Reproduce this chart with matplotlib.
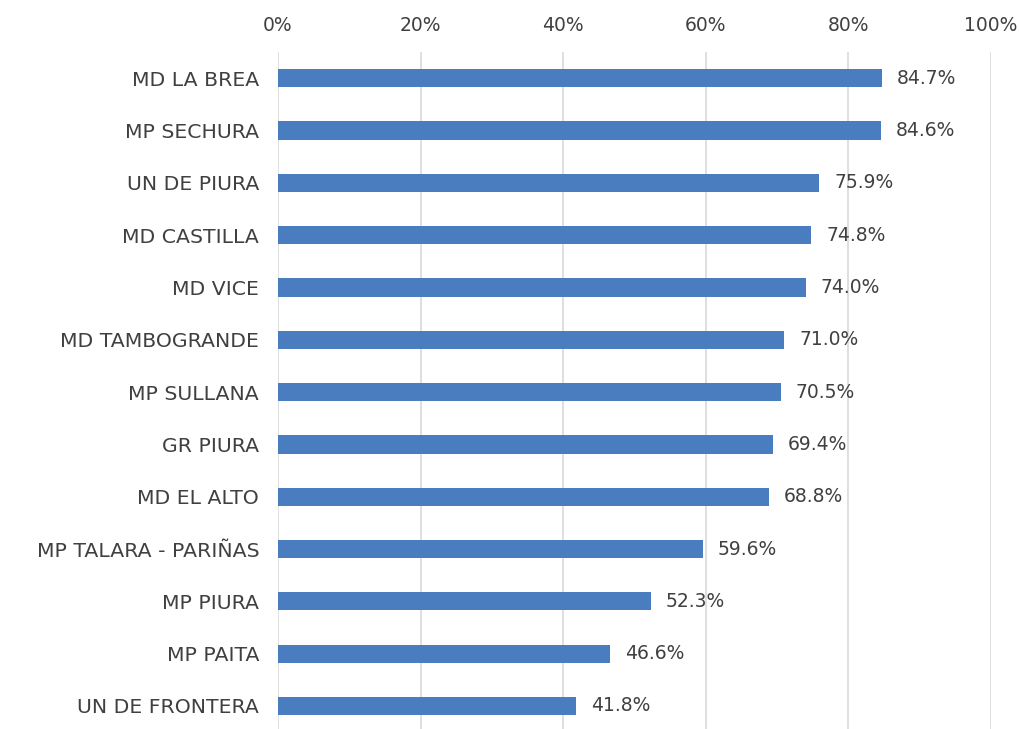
import matplotlib
matplotlib.use("Agg")
import matplotlib.pyplot as plt
from matplotlib.ticker import FuncFormatter

categories = ["MD LA BREA", "MP SECHURA", "UN DE PIURA", "MD CASTILLA", "MD VICE",
              "MD TAMBOGRANDE", "MP SULLANA", "GR PIURA", "MD EL ALTO",
              "MP TALARA - PARIÑAS", "MP PIURA", "MP PAITA", "UN DE FRONTERA"]
values = [84.7, 84.6, 75.9, 74.8, 74.0, 71.0, 70.5, 69.4, 68.8, 59.6, 52.3, 46.6, 41.8]
xticks = [0, 20, 40, 60, 80, 100]

plt.rcParams['font.family'] = ['DejaVu Sans']
text_color = "#404040"

fig = plt.figure(figsize=(10.2, 7.29), dpi=100)
ax = fig.add_axes([278/1020, 0.0, (991-278)/1020, 1 - 52/729])

y = list(range(len(categories)))
ax.barh(y, values, height=0.35, color="#4a7dbf", zorder=3)
ax.set_ylim(len(categories) - 0.56, -0.5)
ax.set_xlim(0, 100)
ax.set_yticks(y)
ax.set_yticklabels(categories, fontsize=14.7, color=text_color)
ax.set_xticks(xticks)
ax.xaxis.set_major_formatter(FuncFormatter(lambda v, p: f"{v:.0f}%"))
ax.xaxis.tick_top()
ax.tick_params(axis='x', length=0, pad=12, labelsize=13.5, labelcolor=text_color)
ax.tick_params(axis='y', length=0, pad=13.5)
ax.grid(axis='x', color="#d9d9d9", linewidth=1.2, zorder=0)
for s in ax.spines.values():
    s.set_visible(False)

for yi, v in zip(y, values):
    ax.text(v + 2.1, yi, f"{v:.1f}%", va='center', ha='left', fontsize=13.5, color=text_color)

fig.savefig("out.png", dpi=100)
